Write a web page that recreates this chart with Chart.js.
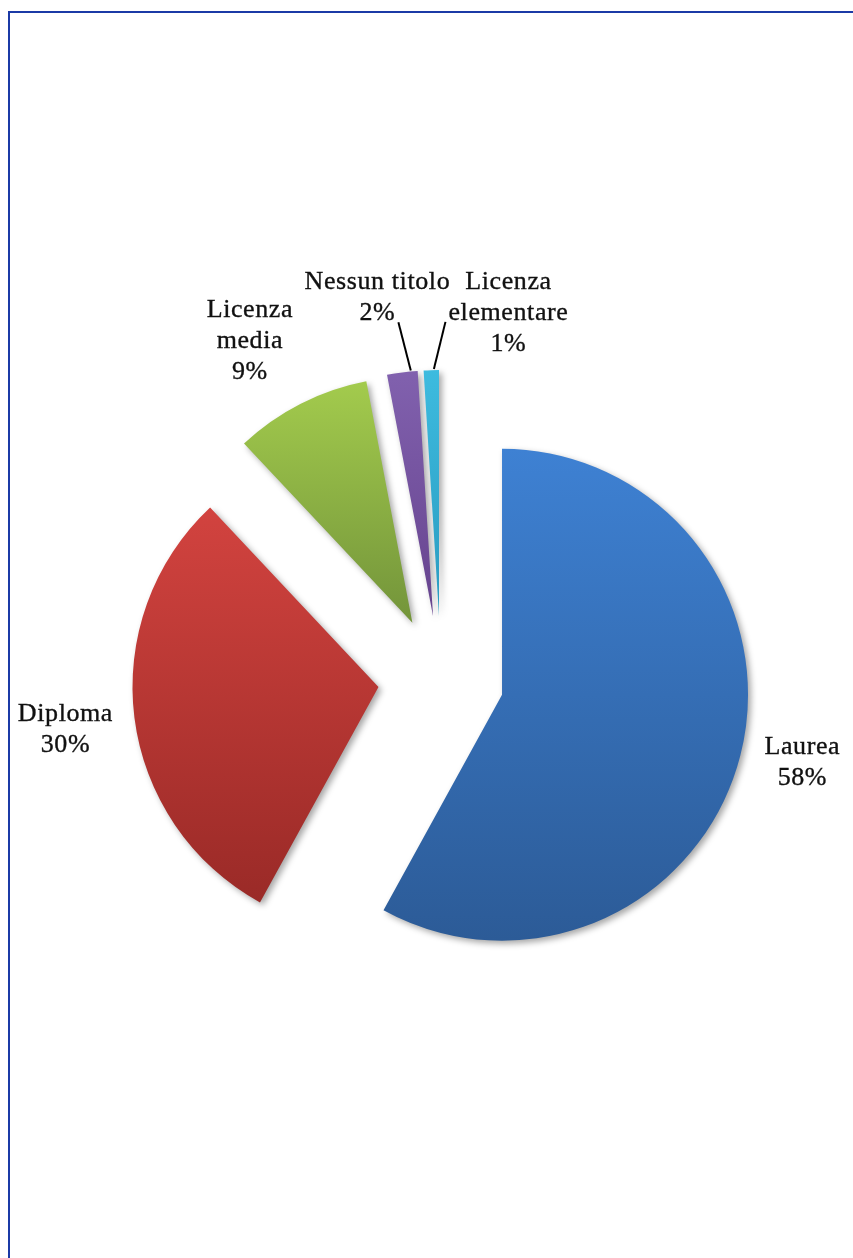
<!DOCTYPE html>
<html>
<head>
<meta charset="utf-8">
<script src="https://cdn.jsdelivr.net/npm/chart.js@4.4.1/dist/chart.umd.min.js"></script>
<style>
  html, body { margin: 0; padding: 0; background: #fff; }
  #pagina { position: relative; width: 853px; height: 1258px; overflow: hidden; }
  #cornice { position: absolute; left: 8px; top: 11px; right: -10px; bottom: -10px;
             border-left: 2px solid #1b3aa6; border-top: 2px solid #1b3aa6; }
  #contenitore { position: absolute; left: 0; top: 0; width: 853px; height: 1258px; }
</style>
</head>
<body>
<div id="pagina">
  <div id="cornice"></div>
  <div id="contenitore"><canvas id="torta"></canvas></div>
</div>
<script>
const categorie = ['Laurea', 'Diploma', 'Licenza media', 'Nessun titolo', 'Licenza elementare'];
const percentuali = [58, 30, 9, 2, 1];
// nomi spezzati su più righe come nelle etichette
const righeNomi = [['Laurea'], ['Diploma'], ['Licenza', 'media'], ['Nessun titolo'], ['Licenza', 'elementare']];
const coloriAlto = ['#3e81d3', '#d2433f', '#a3cb4d', '#8161ae', '#3dbbdf'];
const coloriBasso = ['#2c5b97', '#9a2a27', '#73943a', '#66438e', '#2a9bc0'];

const RAGGIO = 246;
const ESPLOSO = 63;

// posizione delle etichette: distanza oltre il bordo e correzione d'angolo (gradi)
const posEtichette = [
    { distanza: 62, ritocco: -1.6 },
    { distanza: 70, ritocco: -0.6 },
    { distanza: 79, ritocco: -3 },
    { distanza: 78, ritocco: -2.7, guida: { t: 0.78, dx: 21, dy: 25 } },
    { distanza: 65, ritocco: 14.7, guida: { t: 0.67, dx: -63, dy: 9 } },
];

function angoliFetta(i) {
    const totale = percentuali.reduce((a, b) => a + b, 0);
    const prima = percentuali.slice(0, i).reduce((a, b) => a + b, 0);
    const inizio = -Math.PI / 2 + 2 * Math.PI * prima / totale;
    const fine = inizio + 2 * Math.PI * percentuali[i] / totale;
    return { inizio, fine };
}

// sfumatura verticale sull'altezza della singola fetta
function sfumatura(context) {
    const chart = context.chart;
    const i = context.dataIndex;
    const area = chart.chartArea;
    if (!area) {
        return coloriAlto[i];
    }
    const cy = (area.top + area.bottom) / 2;
    const { inizio, fine } = angoliFetta(i);
    const ys = [cy, cy + Math.sin(inizio) * RAGGIO, cy + Math.sin(fine) * RAGGIO];
    [-Math.PI / 2, Math.PI / 2, 3 * Math.PI / 2].forEach(a => {
        if (a >= inizio && a <= fine) ys.push(cy + Math.sin(a) * RAGGIO);
    });
    const grad = chart.ctx.createLinearGradient(0, Math.min(...ys), 0, Math.max(...ys));
    grad.addColorStop(0, coloriAlto[i]);
    grad.addColorStop(1, coloriBasso[i]);
    return grad;
}

// fetta staccata dal centro, con ombra leggera
class FettaEsplosa extends Chart.ArcElement {
    draw(ctx) {
        const medio = (this.startAngle + this.endAngle) / 2;
        ctx.save();
        ctx.translate(Math.cos(medio) * ESPLOSO, Math.sin(medio) * ESPLOSO);
        ctx.shadowColor = 'rgba(0, 0, 0, 0.35)';
        ctx.shadowBlur = 6;
        ctx.shadowOffsetX = 3;
        ctx.shadowOffsetY = 3;
        super.draw(ctx);
        ctx.restore();
    }
}
FettaEsplosa.id = 'fettaEsplosa';
Chart.register(FettaEsplosa);
Chart.defaults.datasets.pie.dataElementType = 'fettaEsplosa';

const etichette = {
    id: 'etichette',
    afterDatasetsDraw(chart) {
        const ctx = chart.ctx;
        const arcs = chart.getDatasetMeta(0).data;
        ctx.save();
        ctx.font = '26px "Liberation Serif", "DejaVu Serif", serif';
        ctx.letterSpacing = '0.6px';
        ctx.fillStyle = '#111';
        ctx.textAlign = 'center';
        ctx.textBaseline = 'middle';
        arcs.forEach((arc, i) => {
            const medio = (arc.startAngle + arc.endAngle) / 2;
            const cx = arc.x + Math.cos(medio) * ESPLOSO;
            const cy = arc.y + Math.sin(medio) * ESPLOSO;
            const pos = posEtichette[i];
            const ang = medio + pos.ritocco * Math.PI / 180;
            const d = arc.outerRadius + pos.distanza;
            const lx = cx + Math.cos(ang) * d;
            const ly = cy + Math.sin(ang) * d;
            const righe = righeNomi[i].concat([percentuali[i] + '%']);
            ctx.strokeStyle = '#111';
            ctx.lineWidth = 0.35;
            righe.forEach((riga, k) => {
                const y = ly + (k - (righe.length - 1) / 2) * 31;
                ctx.fillText(riga, lx, y);
                ctx.strokeText(riga, lx, y);
            });
            if (pos.guida) {
                const a = arc.startAngle + (arc.endAngle - arc.startAngle) * pos.guida.t;
                ctx.beginPath();
                ctx.moveTo(cx + Math.cos(a) * (arc.outerRadius + 1), cy + Math.sin(a) * (arc.outerRadius + 1));
                ctx.lineTo(lx + pos.guida.dx, ly + pos.guida.dy);
                ctx.lineWidth = 2;
                ctx.strokeStyle = '#000';
                ctx.stroke();
            }
        });
        ctx.restore();
    }
};

new Chart(document.getElementById('torta').getContext('2d'), {
    type: 'pie',
    data: {
        labels: categorie,
        datasets: [
            {
                data: percentuali,
                backgroundColor: sfumatura,
                borderWidth: 0,
            }
        ],
    },
    options: {
        responsive: true,
        maintainAspectRatio: false,
        animation: false,
        events: [],
        radius: RAGGIO,
        layout: {
            padding: { left: 29, top: 100, right: 0, bottom: 0 }
        },
        plugins: {
            legend: { display: false },
            tooltip: { enabled: false }
        }
    },
    plugins: [etichette]
});
</script>
</body>
</html>
